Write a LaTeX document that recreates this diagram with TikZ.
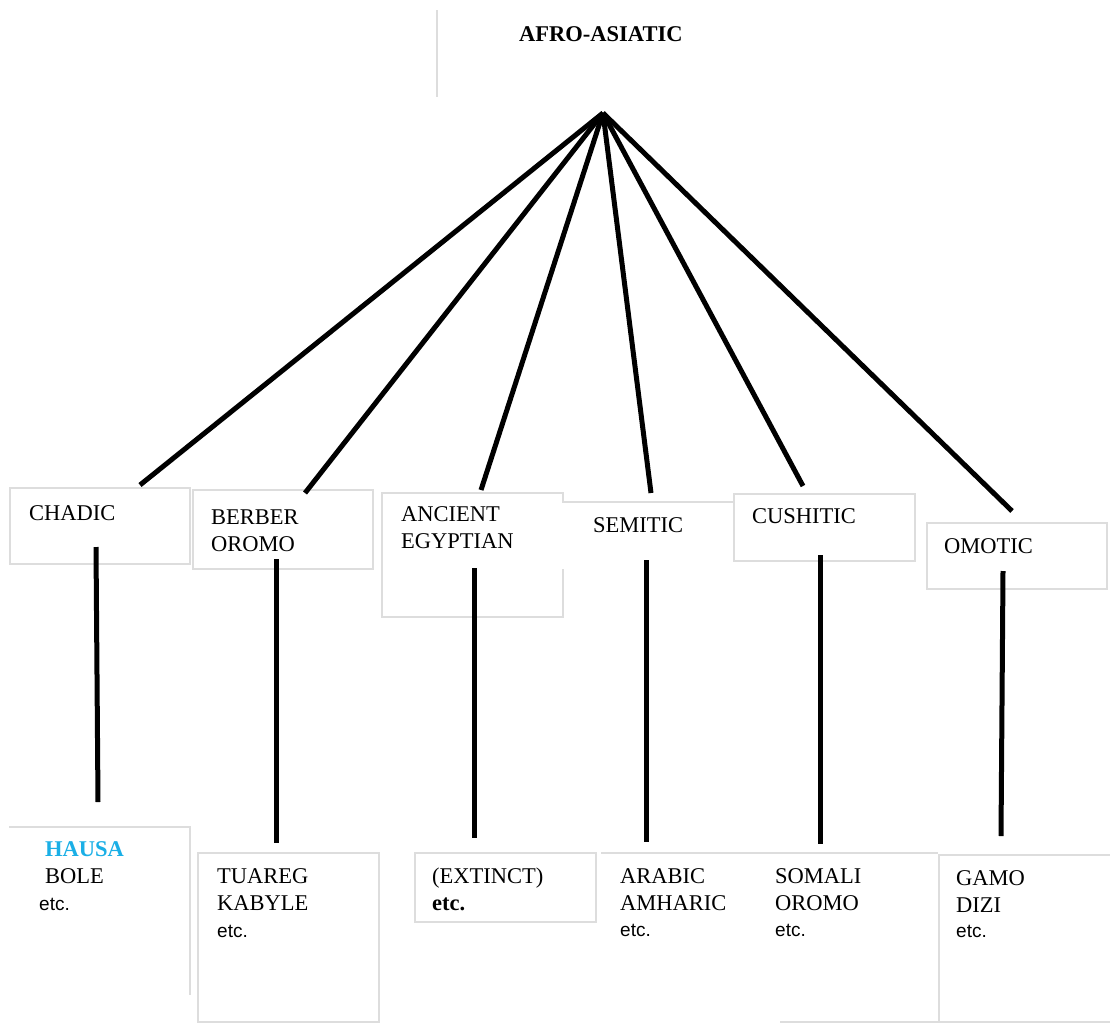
\documentclass[tikz,border=0pt]{standalone}
\usepackage{fontspec}
\setmainfont{Liberation Serif}
\newfontfamily\etcfont{Liberation Sans}
\definecolor{boxgray}{HTML}{DDDDDD}
\definecolor{hausablue}{HTML}{1AAFE6}
\begin{document}
\begin{tikzpicture}[x=1pt,y=-1pt,
  edge/.style={line width=5pt},
  boxline/.style={draw=boxgray,line width=1.4pt},
  lbl/.style={inner sep=0pt,anchor=base west,align=left,font=\fontsize{22.5}{26.5}\selectfont},
  lblb/.style={lbl,font=\fontsize{22.5}{27}\selectfont},
  etcf/.style={inner sep=0pt,anchor=base west,font=\etcfont\fontsize{19}{22}\selectfont}]
\useasboundingbox[fill=white] (0,0) rectangle (1110,1023);

% boxes
\draw[boxline] (437,10) -- (437,97);
\draw[boxline] (10,488) rectangle (190,564);
\draw[boxline] (193,490) rectangle (373,569);
\draw[boxline] (382,493) rectangle (563,617);
\draw[boxline] (734,494) rectangle (915,561);
\fill[white] (562,502) rectangle (733,569);
\draw[boxline] (562,502) -- (734,502);
\draw[boxline] (927,523) rectangle (1107,589);
\draw[boxline] (9,827) -- (190,827) -- (190,995);
\draw[boxline] (198,853) rectangle (379,1022);
\draw[boxline] (415,853) rectangle (596,922);
\draw[boxline] (601,853) -- (938,853);
\draw[boxline] (780,1022) -- (938,1022);
\draw[boxline] (1110,855) -- (939,855) -- (939,1023);
\draw[boxline] (939,1022) -- (1110,1022);

% labels (multi-line nodes: base = baseline of the last line)
\node[lbl,font=\bfseries\fontsize{22.5}{26.5}\selectfont] (root) at (519,41) {AFRO-ASIATIC};
\node[lbl] (chadic) at (29,520) {CHADIC};
\node[lbl] (berber) at (211,551) {BERBER\\OROMO};
\node[lbl] (ancient) at (401,548) {ANCIENT\\EGYPTIAN};
\node[lbl] (semitic) at (593,532) {SEMITIC};
\node[lbl] (cushitic) at (752,523) {CUSHITIC};
\node[lbl] (omotic) at (944,553) {OMOTIC};

\node[lbl,font=\bfseries\fontsize{22.5}{26.5}\selectfont,text=hausablue] (hausa) at (45,856) {HAUSA};
\node[lbl] (bole) at (45,883) {BOLE};
\node[etcf] (hausaetc) at (39,910) {etc.};

\node[lblb] (tuareg) at (217,910) {TUAREG\\KABYLE};
\node[etcf] (tuaregetc) at (217,937) {etc.};
\node[lblb] (extinct) at (432,910) {(EXTINCT)\\\textbf{etc.}};
\node[lblb] (arabic) at (620,910) {ARABIC\\AMHARIC};
\node[etcf] (arabicetc) at (620,936) {etc.};
\node[lblb] (somali) at (775,910) {SOMALI\\OROMO};
\node[etcf] (somalietc) at (775,936) {etc.};
\node[lblb] (gamo) at (956,912) {GAMO\\DIZI};
\node[etcf] (gamoetc) at (956,937) {etc.};

% connector end points
\coordinate (apex) at (603,113);
\coordinate (cT) at (140,485);
\coordinate (bT) at (305,493);
\coordinate (aT) at (481,490);
\coordinate (sT) at (651,493);
\coordinate (kT) at (803,486);
\coordinate (oT) at (1012,511);
\coordinate (cA) at (96,547);  \coordinate (cB) at (98,802);
\coordinate (bA) at (276,559); \coordinate (bB) at (276,843);
\coordinate (aA) at (474,568); \coordinate (aB) at (474,838);
\coordinate (sA) at (646,560); \coordinate (sB) at (646,842);
\coordinate (kA) at (820,555); \coordinate (kB) at (820,844);
\coordinate (oA) at (1003,571);\coordinate (oB) at (1001,836);

\foreach \t in {cT,bT,aT,sT,kT,oT} \draw[edge] (apex) -- (\t);
\draw[edge] (cA) -- (cB);
\draw[edge] (bA) -- (bB);
\draw[edge] (aA) -- (aB);
\draw[edge] (sA) -- (sB);
\draw[edge] (kA) -- (kB);
\draw[edge] (oA) -- (oB);
\end{tikzpicture}
\end{document}
